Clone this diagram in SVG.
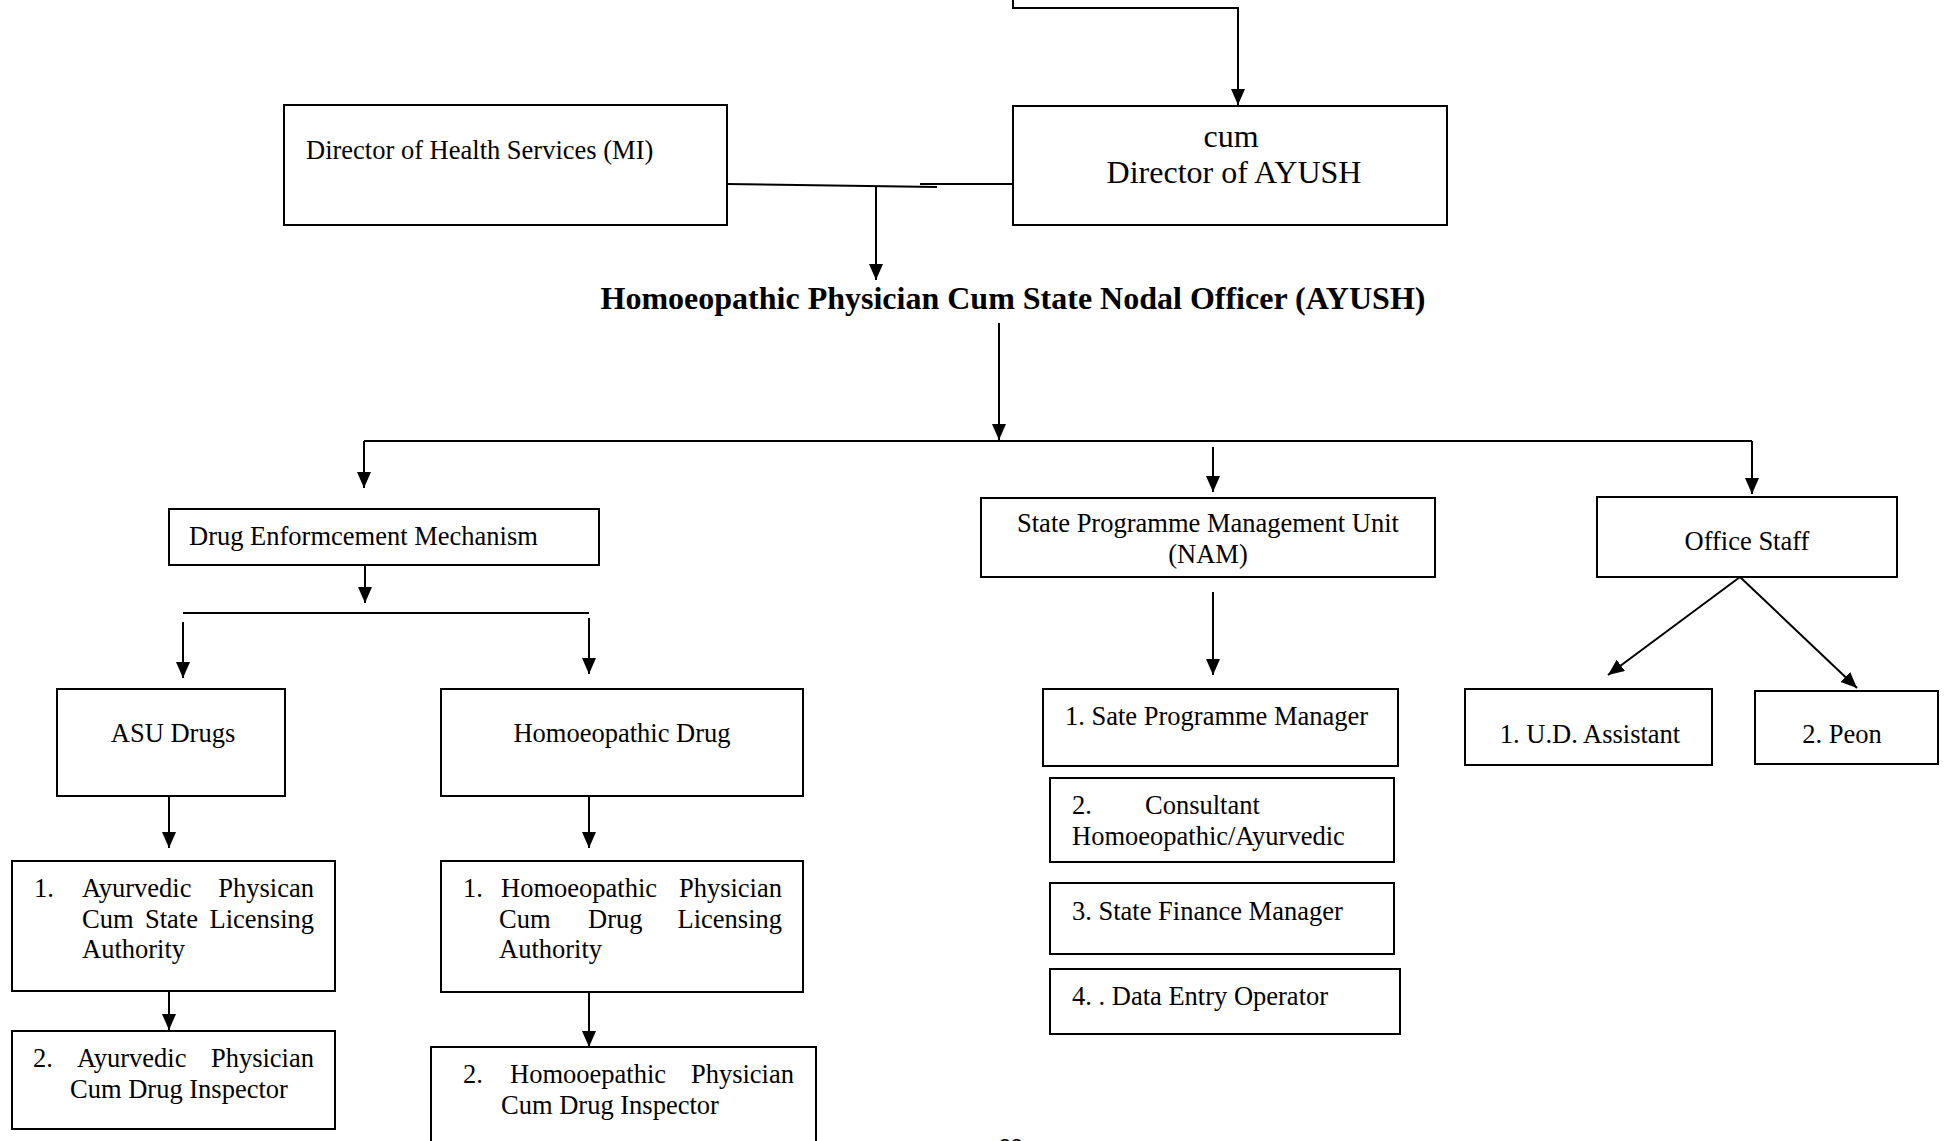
<svg xmlns="http://www.w3.org/2000/svg" width="1947" height="1141" viewBox="0 0 1947 1141">
<style>
  .box { fill: #fff; stroke: #000; stroke-width: 2; }
  .ln { fill: none; stroke: #000; stroke-width: 2; }
  .arr { fill: none; stroke: #000; stroke-width: 2; marker-end: url(#ah); }
  text { font-family: "Liberation Serif", "Times New Roman", serif; font-size: 26.5px; fill: #000; }
  .c { text-anchor: middle; }
  .e { text-anchor: end; }
  .big { font-size: 32px; }
  .title { font-size: 32px; font-weight: bold; text-anchor: middle; }
  .pg { font-family: "Liberation Sans", Arial, sans-serif; font-size: 21px; }
</style>
<defs>
  <marker id="ah" markerUnits="userSpaceOnUse" markerWidth="17" markerHeight="15" refX="16" refY="7" orient="auto">
    <path d="M0,0 L16,7 L0,14 z" fill="#000"/>
  </marker>
</defs>
<rect width="1947" height="1141" fill="#fff"/>

<g id="connectors">
  <polyline class="arr" points="1013,0 1013,8 1238,8 1238,105"/>
  <line class="ln" x1="727" y1="184" x2="937" y2="187"/>
  <line class="ln" x1="920" y1="184" x2="1013" y2="184"/>
  <line class="arr" x1="876" y1="186" x2="876" y2="280"/>
  <line class="arr" x1="999" y1="323" x2="999" y2="440"/>
  <line class="ln" x1="364" y1="441" x2="1752" y2="441"/>
  <line class="arr" x1="364" y1="441" x2="364" y2="488"/>
  <line class="arr" x1="1213" y1="447" x2="1213" y2="492"/>
  <line class="arr" x1="1752" y1="441" x2="1752" y2="494"/>
  <line class="arr" x1="365" y1="565" x2="365" y2="603"/>
  <line class="ln" x1="183" y1="613" x2="589" y2="613"/>
  <line class="arr" x1="183" y1="622" x2="183" y2="678"/>
  <line class="arr" x1="589" y1="618" x2="589" y2="674"/>
  <line class="arr" x1="169" y1="796" x2="169" y2="848"/>
  <line class="arr" x1="169" y1="991" x2="169" y2="1030"/>
  <line class="arr" x1="589" y1="796" x2="589" y2="848"/>
  <line class="arr" x1="589" y1="992" x2="589" y2="1047"/>
  <line class="arr" x1="1213" y1="592" x2="1213" y2="675"/>
  <line class="arr" x1="1740" y1="577" x2="1608" y2="675"/>
  <line class="arr" x1="1740" y1="577" x2="1857" y2="688"/>
</g>

<g id="dhs">
  <rect class="box" x="284" y="105" width="443" height="120"/>
  <text x="306" y="159">Director of Health Services (MI)</text>
</g>
<g id="ayush">
  <rect class="box" x="1013" y="106" width="434" height="119"/>
  <text class="c big" x="1231" y="147">cum</text>
  <text class="c big" x="1234" y="183">Director of AYUSH</text>
</g>
<g id="nodal">
  <text class="title" x="1013" y="309">Homoeopathic Physician Cum State Nodal Officer (AYUSH)</text>
</g>
<g id="dem">
  <rect class="box" x="169" y="509" width="430" height="56"/>
  <text x="189" y="545">Drug Enformcement Mechanism</text>
</g>
<g id="asu">
  <rect class="box" x="57" y="689" width="228" height="107"/>
  <text class="c" x="173" y="742">ASU Drugs</text>
</g>
<g id="homdrug">
  <rect class="box" x="441" y="689" width="362" height="107"/>
  <text class="c" x="622" y="742">Homoeopathic Drug</text>
</g>
<g id="ayur1">
  <rect class="box" x="12" y="861" width="323" height="130"/>
  <text x="34" y="897">1.</text>
  <text x="82" y="897">Ayurvedic</text>
  <text class="e" x="314" y="897">Physican</text>
  <text x="82" y="928">Cum</text>
  <text x="145" y="928">State</text>
  <text class="e" x="314" y="928">Licensing</text>
  <text x="82" y="958">Authority</text>
</g>
<g id="ayur2">
  <rect class="box" x="12" y="1031" width="323" height="98"/>
  <text x="33" y="1067">2.</text>
  <text x="77" y="1067">Ayurvedic</text>
  <text class="e" x="314" y="1067">Physician</text>
  <text x="70" y="1098">Cum Drug Inspector</text>
</g>
<g id="hom1">
  <rect class="box" x="441" y="861" width="362" height="131"/>
  <text x="463" y="897">1.</text>
  <text x="501" y="897">Homoeopathic</text>
  <text class="e" x="782" y="897">Physician</text>
  <text x="499" y="928">Cum</text>
  <text x="588" y="928">Drug</text>
  <text class="e" x="782" y="928">Licensing</text>
  <text x="499" y="958">Authority</text>
</g>
<g id="hom2">
  <rect class="box" x="431" y="1047" width="385" height="110"/>
  <text x="463" y="1083">2.</text>
  <text x="510" y="1083">Homooepathic</text>
  <text class="e" x="794" y="1083">Physician</text>
  <text x="501" y="1114">Cum Drug Inspector</text>
</g>
<g id="spmu">
  <rect class="box" x="981" y="498" width="454" height="79"/>
  <text class="c" x="1208" y="532">State Programme Management Unit</text>
  <text class="c" x="1208" y="563">(NAM)</text>
</g>
<g id="office">
  <rect class="box" x="1597" y="497" width="300" height="80"/>
  <text class="c" x="1747" y="550">Office Staff</text>
</g>
<g id="spm">
  <rect class="box" x="1043" y="689" width="355" height="77"/>
  <text x="1065" y="725">1. Sate Programme Manager</text>
</g>
<g id="consultant">
  <rect class="box" x="1050" y="778" width="344" height="84"/>
  <text x="1072" y="814">2.</text>
  <text x="1145" y="814">Consultant</text>
  <text x="1072" y="845">Homoeopathic/Ayurvedic</text>
</g>
<g id="sfm">
  <rect class="box" x="1050" y="883" width="344" height="71"/>
  <text x="1072" y="920">3. State Finance Manager</text>
</g>
<g id="deo">
  <rect class="box" x="1050" y="969" width="350" height="65"/>
  <text x="1072" y="1005">4. . Data Entry Operator</text>
</g>
<g id="ud">
  <rect class="box" x="1465" y="689" width="247" height="76"/>
  <text class="c" x="1590" y="743">1. U.D. Assistant</text>
</g>
<g id="peon">
  <rect class="box" x="1755" y="691" width="183" height="73"/>
  <text class="c" x="1842" y="743">2. Peon</text>
</g>
<text class="pg" x="999" y="1153">22</text>
</svg>
